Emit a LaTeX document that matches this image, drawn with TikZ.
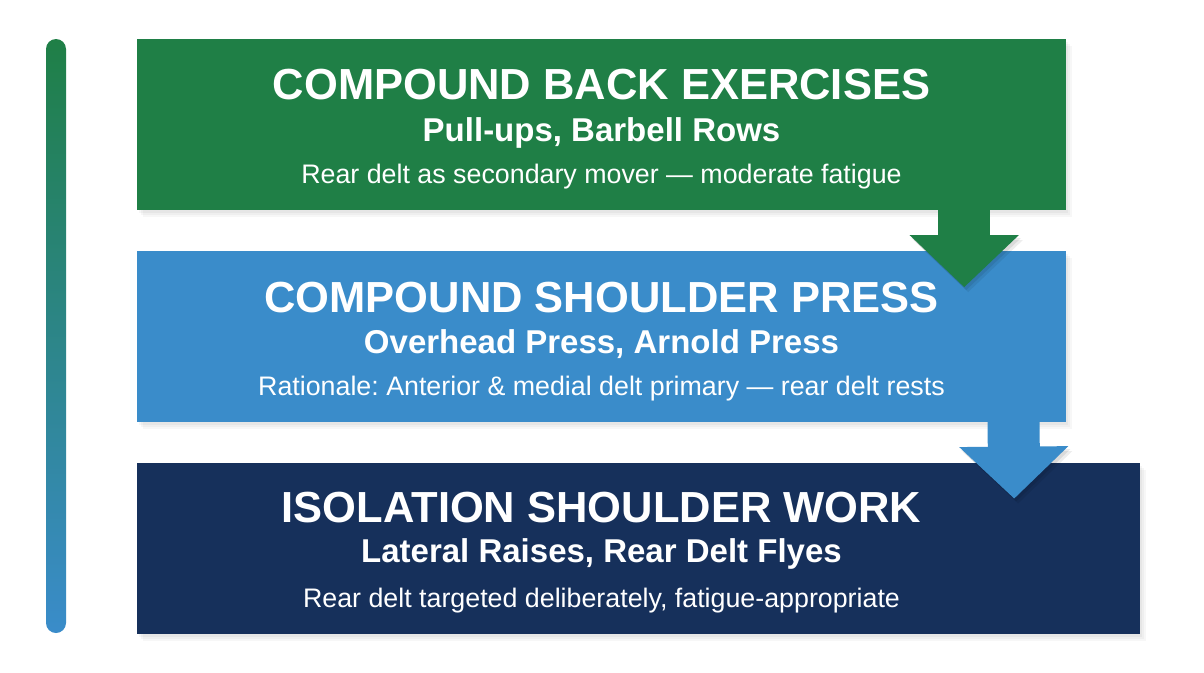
\documentclass[tikz,border=0pt]{standalone}
\usepackage{fontspec}
\setmainfont{Liberation Sans}
\usetikzlibrary{arrows.meta,calc,positioning,shadows}
\definecolor{backColor}{RGB}{31,127,70}
\definecolor{pressColor}{RGB}{58,140,202}
\definecolor{isolationColor}{RGB}{22,48,91}
\tikzset{stage/.style={draw=none, inner sep=0pt, minimum width=929pt, minimum height=171pt,
	drop shadow={opacity=.07, shadow xshift=2pt, shadow yshift=-3pt},
	drop shadow={opacity=.07, shadow xshift=4pt, shadow yshift=-5pt},
	drop shadow={opacity=.06, shadow xshift=6pt, shadow yshift=-7pt}}}
\tikzset{stageTitle/.style={text=white, anchor=base, inner sep=0pt, font=\fontsize{43.5}{50}\selectfont\bfseries}}
\tikzset{stageList/.style={stageTitle, font=\fontsize{33}{38}\selectfont\bfseries}}
\tikzset{stageNote/.style={stageTitle, font=\fontsize{26.8}{31}\selectfont}}
\tikzstyle{arrow} = [line width=52pt, -{Triangle[width=106pt, length=52pt]},
	preaction={draw=black, opacity=.08, transform canvas={shift={(2pt,-3pt)}}},
	preaction={draw=black, opacity=.07, transform canvas={shift={(4pt,-5pt)}}}]
\frenchspacing

\begin{document}
\begin{tikzpicture}[x=1pt, y=-1pt, node distance=41pt]
	\useasboundingbox[fill=white] (0,0) rectangle (1204,672);

	% Nodes
	\node (timeline) [inner sep=0pt, minimum width=20pt, minimum height=594pt, rounded corners=10pt, top color=backColor, bottom color=pressColor] at (56,336) {};

	\node (back) [stage, fill=backColor] at (601.5,124.5) {};
	\node (press) [stage, fill=pressColor, below=of back] {};
	\node (isolation) [stage, fill=isolationColor, minimum width=1003pt, below=40pt of press.south west, anchor=north west] {};

	\node (backTitle) [stageTitle] at ($(back.north)+(0,61)$) {COMPOUND BACK EXERCISES};
	\node (backList) [stageList] at ($(back.north)+(0,103)$) {Pull-ups, Barbell Rows};
	\node (backNote) [stageNote] at ($(back.north)+(0,145)$) {Rear delt as secondary mover — moderate fatigue};

	\node (pressTitle) [stageTitle] at ($(press.north)+(0,61)$) {COMPOUND SHOULDER PRESS};
	\node (pressList) [stageList] at ($(press.north)+(0,102)$) {Overhead Press, Arnold Press};
	\node (pressNote) [stageNote] at ($(press.north)+(0,144)$) {Rationale: Anterior \& medial delt primary — rear delt rests};

	\node (isolationTitle) [stageTitle] at ($(isolation.north -| back.north)+(0,60)$) {ISOLATION SHOULDER WORK};
	\node (isolationList) [stageList] at ($(isolation.north -| back.north)+(0,100)$) {Lateral Raises, Rear Delt Flyes};
	\node (isolationNote) [stageNote] at ($(isolation.north -| back.north)+(0,145)$) {Rear delt targeted deliberately, fatigue-appropriate};

	% Connectors
	\begin{scope}
		\draw [arrow, color=backColor] ($(back.south east)+(-102,-42)$) -- ($(press.north east)+(-102,36)$);
		\draw [arrow, color=pressColor] ($(press.south east)+(-53,-43)$) -- ($(isolation.north east)+(-126,36)$);
	\end{scope}

\end{tikzpicture}
\end{document}
